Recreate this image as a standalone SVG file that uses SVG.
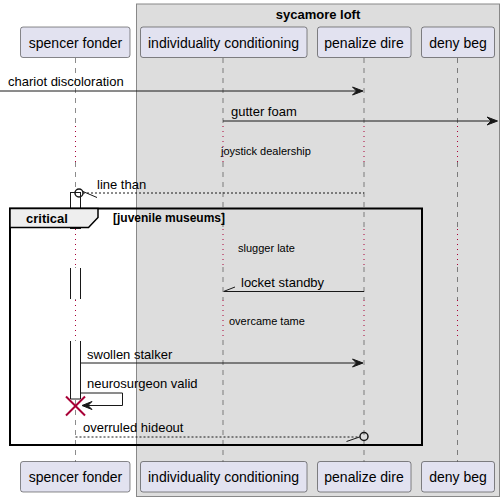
<svg xmlns="http://www.w3.org/2000/svg" width="503" height="502" viewBox="0 0 503 502">
<defs>
<style>
.pbox{fill:#E2E2F0;stroke:#181818;stroke-width:0.5}
.ptxt{font-family:"Liberation Sans",Arial,sans-serif;font-size:14px;fill:#000;text-anchor:middle}
.life{stroke:#181818;stroke-width:0.5;stroke-dasharray:5,5;fill:none}
.delay{stroke:#A80036;stroke-width:1;stroke-dasharray:1,4;fill:none}
.msg{font-family:"Liberation Sans",Arial,sans-serif;font-size:13px;fill:#000}
.small{font-family:"Liberation Sans",Arial,sans-serif;font-size:11px;fill:#000}
.line{stroke:#181818;stroke-width:1;fill:none}
.dash{stroke:#181818;stroke-width:1;stroke-dasharray:2,2;fill:none}
.head{fill:#181818;stroke:#181818;stroke-width:1}
.act{fill:#FFFFFF;stroke:#181818;stroke-width:1}
</style>
</defs>
<g id="box-sycamore-loft">
<rect x="136.5" y="4" width="363" height="492.5" fill="#DDDDDD" stroke="#888888" stroke-width="1"/>
<text x="318" y="19" font-family="'Liberation Sans',Arial,sans-serif" font-size="13" font-weight="bold" text-anchor="middle">sycamore loft</text>
</g>
<g id="lifelines">
<line class="life" x1="75.5" y1="58" x2="75.5" y2="126"/>
<line class="delay" x1="75.5" y1="126" x2="75.5" y2="162"/>
<line class="life" x1="75.5" y1="162" x2="75.5" y2="229"/>
<line class="delay" x1="75.5" y1="229" x2="75.5" y2="267"/>
<line class="life" x1="75.5" y1="267" x2="75.5" y2="300"/>
<line class="delay" x1="75.5" y1="300" x2="75.5" y2="340"/>
<line class="life" x1="75.5" y1="340" x2="75.5" y2="462"/>
<line class="life" x1="223" y1="58" x2="223" y2="126"/>
<line class="delay" x1="223" y1="126" x2="223" y2="162"/>
<line class="life" x1="223" y1="162" x2="223" y2="229"/>
<line class="delay" x1="223" y1="229" x2="223" y2="267"/>
<line class="life" x1="223" y1="267" x2="223" y2="300"/>
<line class="delay" x1="223" y1="300" x2="223" y2="340"/>
<line class="life" x1="223" y1="340" x2="223" y2="462"/>
<line class="life" x1="364" y1="58" x2="364" y2="126"/>
<line class="delay" x1="364" y1="126" x2="364" y2="162"/>
<line class="life" x1="364" y1="162" x2="364" y2="229"/>
<line class="delay" x1="364" y1="229" x2="364" y2="267"/>
<line class="life" x1="364" y1="267" x2="364" y2="300"/>
<line class="delay" x1="364" y1="300" x2="364" y2="340"/>
<line class="life" x1="364" y1="340" x2="364" y2="462"/>
<line class="life" x1="457.5" y1="58" x2="457.5" y2="126"/>
<line class="delay" x1="457.5" y1="126" x2="457.5" y2="162"/>
<line class="life" x1="457.5" y1="162" x2="457.5" y2="229"/>
<line class="delay" x1="457.5" y1="229" x2="457.5" y2="267"/>
<line class="life" x1="457.5" y1="267" x2="457.5" y2="300"/>
<line class="delay" x1="457.5" y1="300" x2="457.5" y2="340"/>
<line class="life" x1="457.5" y1="340" x2="457.5" y2="462"/>
</g>
<g id="activation-spencer">
<rect class="act" x="70.5" y="192.5" width="10" height="36"/>
<rect x="70.5" y="268" width="10" height="31" fill="#FFFFFF" stroke="none"/>
<line class="line" x1="70.5" y1="268" x2="70.5" y2="299"/>
<line class="line" x1="80.5" y1="268" x2="80.5" y2="299"/>
<path class="act" d="M70.5,341 L70.5,399 L80.5,399 L80.5,341"/>
</g>
<g id="frame-critical">
<rect x="10" y="208.5" width="412" height="236.5" fill="none" stroke="#000000" stroke-width="2"/>
<path d="M10,208.5 L98,208.5 L98,217.5 L88.5,227.5 L10,227.5 Z" fill="#EEEEEE" stroke="#000000" stroke-width="1.5"/>
<text x="26" y="222.5" font-family="'Liberation Sans',Arial,sans-serif" font-size="13" font-weight="bold">critical</text>
<text x="113" y="222" font-family="'Liberation Sans',Arial,sans-serif" font-size="12" font-weight="bold">[juvenile museums]</text>
</g>
<g id="participant-spencer-fonder">
<rect class="pbox" x="20.5" y="27" width="109.5" height="30.5" rx="2.5"/>
<text class="ptxt" x="75.5" y="47.5">spencer fonder</text>
<rect class="pbox" x="20.5" y="461.5" width="109.5" height="30.5" rx="2.5"/>
<text class="ptxt" x="75.5" y="482">spencer fonder</text>
</g>
<g id="participant-individuality-conditioning">
<rect class="pbox" x="140.5" y="27" width="166.5" height="30.5" rx="2.5"/>
<text class="ptxt" x="223.5" y="47.5">individuality conditioning</text>
<rect class="pbox" x="140.5" y="461.5" width="166.5" height="30.5" rx="2.5"/>
<text class="ptxt" x="223.5" y="482">individuality conditioning</text>
</g>
<g id="participant-penalize-dire">
<rect class="pbox" x="317.5" y="27" width="93.5" height="30.5" rx="2.5"/>
<text class="ptxt" x="364" y="47.5">penalize dire</text>
<rect class="pbox" x="317.5" y="461.5" width="93.5" height="30.5" rx="2.5"/>
<text class="ptxt" x="364" y="482">penalize dire</text>
</g>
<g id="participant-deny-beg">
<rect class="pbox" x="421.5" y="27" width="73" height="30.5" rx="2.5"/>
<text class="ptxt" x="458" y="47.5">deny beg</text>
<rect class="pbox" x="421.5" y="461.5" width="73" height="30.5" rx="2.5"/>
<text class="ptxt" x="458" y="482">deny beg</text>
</g>
<g id="connectors">
<line class="line" x1="0" y1="91" x2="362" y2="91"/>
<polygon class="head" points="352.5,87 363,91 352.5,95 356.5,91"/>
<text class="msg" x="8" y="86">chariot discoloration</text>
<line class="line" x1="223" y1="121" x2="496" y2="121"/>
<polygon class="head" points="487,117 497.5,121 487,125 491,121"/>
<text class="msg" x="231" y="115.5">gutter foam</text>
<text class="small" x="221" y="155">joystick dealership</text>
<line class="dash" x1="83" y1="193" x2="364" y2="193"/>
<circle cx="79" cy="193" r="4" fill="none" stroke="#181818" stroke-width="1.5"/>
<line class="line" x1="83" y1="191.5" x2="97" y2="197.5"/>
<text class="msg" x="97" y="188.5">line than</text>
<text class="small" x="238" y="252">slugger late</text>
<line class="line" x1="224" y1="291.5" x2="364" y2="291.5"/>
<line class="line" x1="223.5" y1="291.5" x2="235" y2="287"/>
<text class="msg" x="241" y="286.5">locket standby</text>
<text class="small" x="229" y="325">overcame tame</text>
<line class="line" x1="80.5" y1="363" x2="362" y2="363"/>
<polygon class="head" points="352.5,359 363,363 352.5,367 356.5,363"/>
<text class="msg" x="87" y="358.5">swollen stalker</text>
<polyline class="line" points="80.5,393 122.5,393 122.5,405.5 83,405.5"/>
<polygon class="head" points="92,401.5 82,405.5 92,409.5 88,405.5"/>
<text class="msg" x="87" y="388">neurosurgeon valid</text>
<g id="destroy-spencer" stroke="#A80036" stroke-width="2">
<line x1="66" y1="396.5" x2="85" y2="415.5"/>
<line x1="85" y1="396.5" x2="66" y2="415.5"/>
</g>
<line class="dash" x1="75.5" y1="437" x2="360" y2="437"/>
<circle cx="364" cy="436.5" r="4" fill="none" stroke="#181818" stroke-width="1.5"/>
<line class="line" x1="346.5" y1="441.5" x2="359.5" y2="437"/>
<text class="msg" x="83" y="432">overruled hideout</text>
</g>
</svg>
